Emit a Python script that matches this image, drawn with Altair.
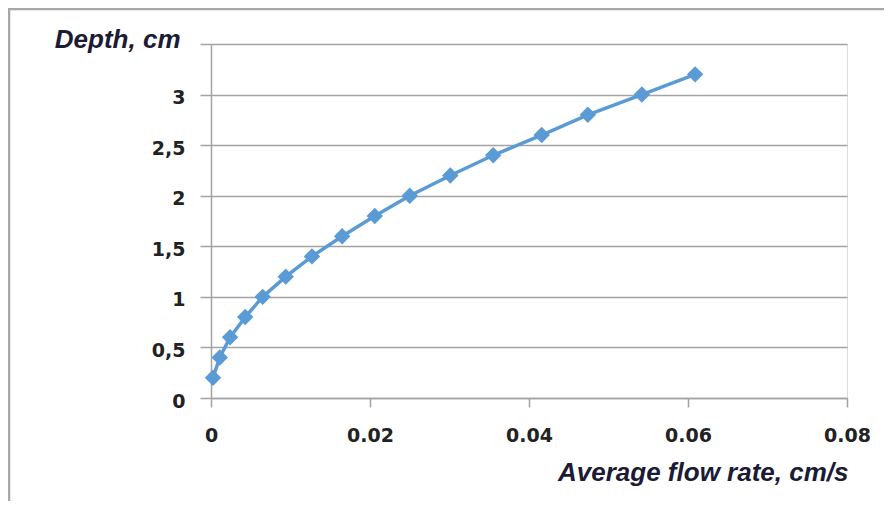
import altair as alt
import pandas as pd

flow_rate = [0.00025, 0.0011, 0.0024, 0.0043, 0.0065, 0.0094, 0.0127, 0.0165,
             0.0206, 0.0250, 0.0301, 0.0355, 0.0416, 0.0474, 0.0542, 0.0609]
depth = [0.2, 0.4, 0.6, 0.8, 1.0, 1.2, 1.4, 1.6,
         1.8, 2.0, 2.2, 2.4, 2.6, 2.8, 3.0, 3.2]
y_ticks = [0, 0.5, 1, 1.5, 2, 2.5, 3, 3.5]
x_ticks = [0, 0.02, 0.04, 0.06, 0.08]

df = pd.DataFrame({"x": flow_rate, "y": depth})

GRAY = "#a3a3a3"
LABEL_FONT = "DejaVu Sans"
TITLE_FONT = "Liberation Sans"
TITLE_COLOR = "#1b1b35"
BLUE = "#5b9bd5"

x_enc = alt.X(
    "x:Q",
    scale=alt.Scale(domain=[0, 0.08], nice=False),
    axis=alt.Axis(
        values=x_ticks,
        grid=False,
        labelExpr="datum.value == 0 ? '0' : format(datum.value, '.2f')",
        labelFont=LABEL_FONT, labelFontSize=19, labelFontWeight="bold",
        labelColor="#222222", labelPadding=19, labelFlush=False,
        tickSize=9, tickColor=GRAY, tickWidth=1.5,
        domainColor=GRAY, domainWidth=1.5,
        title="Average flow rate, cm/s",
        titleFont=TITLE_FONT, titleFontSize=26, titleFontWeight="bold",
        titleFontStyle="italic", titleColor=TITLE_COLOR,
        titleAlign="right", titleBaseline="alphabetic",
        titleX=637, titleY=82,
    ),
)
y_enc = alt.Y(
    "y:Q",
    scale=alt.Scale(domain=[0, 3.5], nice=False),
    axis=alt.Axis(
        values=y_ticks,
        grid=True, gridColor=GRAY, gridWidth=1.5,
        labelExpr="datum.value == 3.5 ? '' : replace(toString(datum.value), '.', ',')",
        labelFont=LABEL_FONT, labelFontSize=19, labelFontWeight="bold",
        labelColor="#222222", labelPadding=15, labelOffset=3, labelFlush=False,
        tickSize=11, tickColor=GRAY, tickWidth=1.5,
        domainColor=GRAY, domainWidth=1.5,
        title="Depth, cm", titleAngle=0,
        titleFont=TITLE_FONT, titleFontSize=26, titleFontWeight="bold",
        titleFontStyle="italic", titleColor=TITLE_COLOR,
        titleAlign="right", titleBaseline="alphabetic",
        titleX=-31, titleY=3,
    ),
)

line = alt.Chart(df).mark_line(color=BLUE, strokeWidth=3.5).encode(x=x_enc, y=y_enc)
points = alt.Chart(df).mark_point(
    shape="diamond", filled=True, size=270, color=BLUE, opacity=1
).encode(x="x:Q", y="y:Q")

frame_df = pd.DataFrame({"k": [0]})
frame_left = alt.Chart(frame_df).mark_rule(color="#a8a8a8", strokeWidth=2.5).encode(
    x=alt.value(-202), y=alt.value(-35), y2=alt.value(480)
)
frame_top = alt.Chart(frame_df).mark_rule(color="#a8a8a8", strokeWidth=2.5).encode(
    x=alt.value(-203), x2=alt.value(690), y=alt.value(-35)
)

chart = alt.layer(frame_left, frame_top, line, points).properties(
    width=636, height=354,
    autosize=alt.AutoSizeParams(type="none"),
    padding={"left": 203, "top": 36, "right": 37, "bottom": 103},
).configure_view(stroke=None).configure(background="white")

chart.save("out.html", embed_options={"renderer": "svg", "actions": False})
